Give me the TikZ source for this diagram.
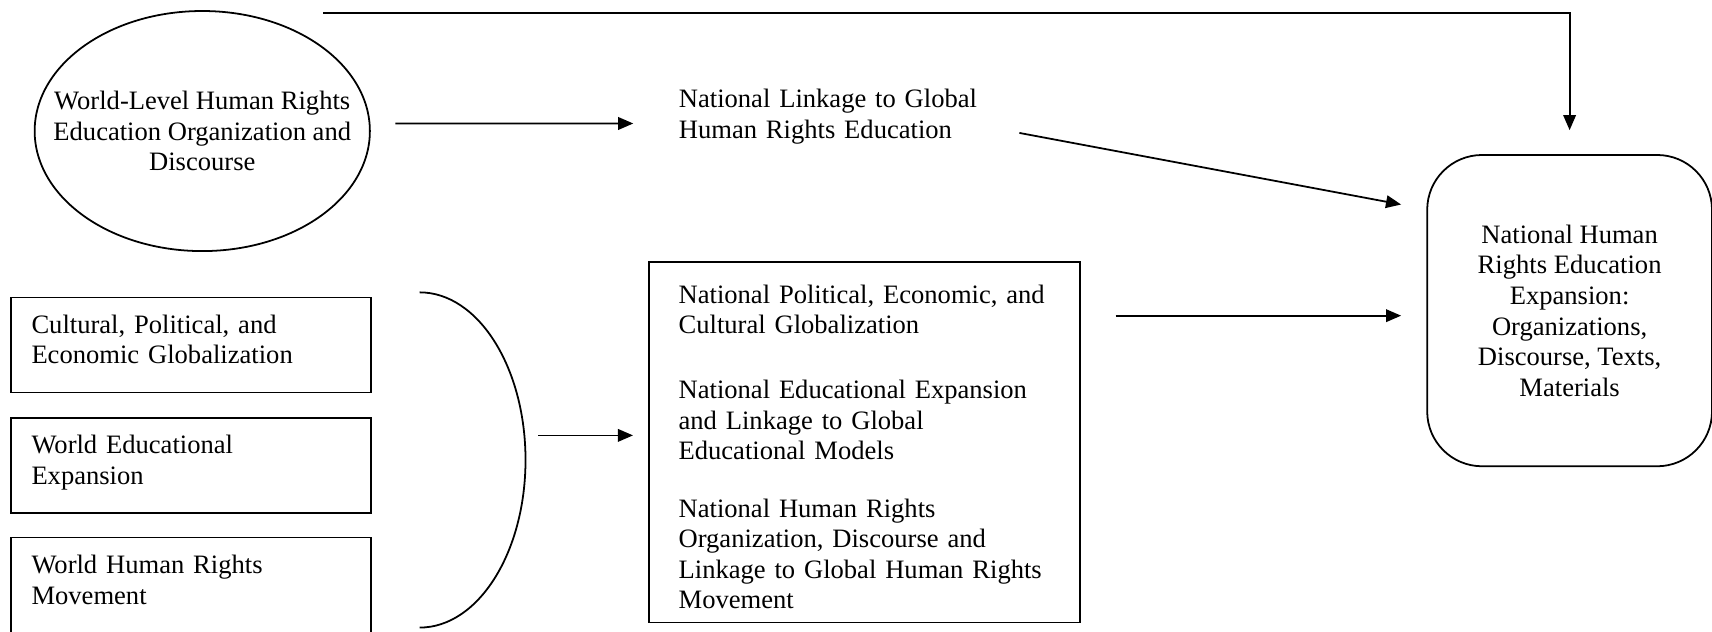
\documentclass[tikz,border=0pt]{standalone}
\usepackage{fontspec}
\setmainfont{Liberation Serif}
\usetikzlibrary{arrows.meta,shapes.geometric}

\newcommand{\lowstrut}{\rule[-5pt]{0pt}{0pt}}

\begin{document}
\begin{tikzpicture}[
	line width=0.8pt,
	every node/.style={font=\fontsize{12pt}{13.8pt}\selectfont},
	arr/.style={-{Triangle[length=0.24cm,width=0.2cm]}},
	inbox/.style={draw, rectangle, minimum width=5.72cm, minimum height=1.51cm, text width=5.06cm, align=left, inner xsep=0.33cm},
]
	\useasboundingbox (0,0) rectangle (27.17,10.03);

	% world level ellipse and national linkage
	\node[draw, ellipse, minimum width=5.32cm, minimum height=3.81cm, inner sep=0pt] (wl) at (3.21,7.95) {};
	\node[align=center] (wltext) at (wl.center) {World-Level Human Rights\\Education Organization and\\Discourse};
	\node[text width=4.8cm, align=left, inner sep=0pt, anchor=west] (link) at (10.76,8.18) {National Linkage to Global\\Human Rights Education};

	% outcome
	\node[draw, rounded corners=0.87cm, minimum width=4.52cm, minimum height=4.94cm, align=center] (exp) at (24.91,5.10) {National Human\\Rights Education\\Expansion:\\Organizations,\\Discourse, Texts,\\Materials};

	% world level boxes
	\node[inbox] (cpe) at (3.03,4.555) {Cultural, Political, and\\Economic Globalization\lowstrut};
	\node[inbox] (wee) at (3.03,2.645) {World Educational\\Expansion\lowstrut};
	\node[inbox] (whr) at (3.03,0.745) {World Human Rights\\Movement\lowstrut};
	\draw (6.66,5.39) arc[start angle=90, end angle=-90, x radius=1.68cm, y radius=2.66cm];
	\coordinate (brk) at (8.54,3.12);

	% national level box
	\node[draw, text width=5.9cm, inner xsep=0.47cm, minimum height=5.72cm, align=left] (mid) at (13.72,3.01) {\rule{0pt}{12.5pt}National Political, Economic, and\\Cultural Globalization\\[15.5pt]National Educational Expansion\\and Linkage to Global\\Educational Models\\[12pt]National Human Rights\\Organization, Discourse and\\Linkage to Global Human Rights\\Movement};

	% arrows
	\draw[arr] ([xshift=1.92cm,yshift=-0.04cm]wl.north) -| ([yshift=0.38cm]exp.north);
	\draw[arr, shorten <=0.39cm, shorten >=0.71cm] ([yshift=0.12cm]wl.east) -- ([yshift=-0.11cm]link.west);
	\draw[arr] ([xshift=0.59cm,yshift=-0.26cm]link.east) -- ([xshift=-0.4cm,yshift=-0.8cm]exp.north west);
	\draw[arr, shorten >=0.24cm] (brk) -- (brk -| mid.west);
	\draw[arr, shorten <=0.55cm, shorten >=0.4cm] ([yshift=-0.08cm]mid.east |- exp.west) -- ([yshift=-0.08cm]exp.west);
\end{tikzpicture}
\end{document}
